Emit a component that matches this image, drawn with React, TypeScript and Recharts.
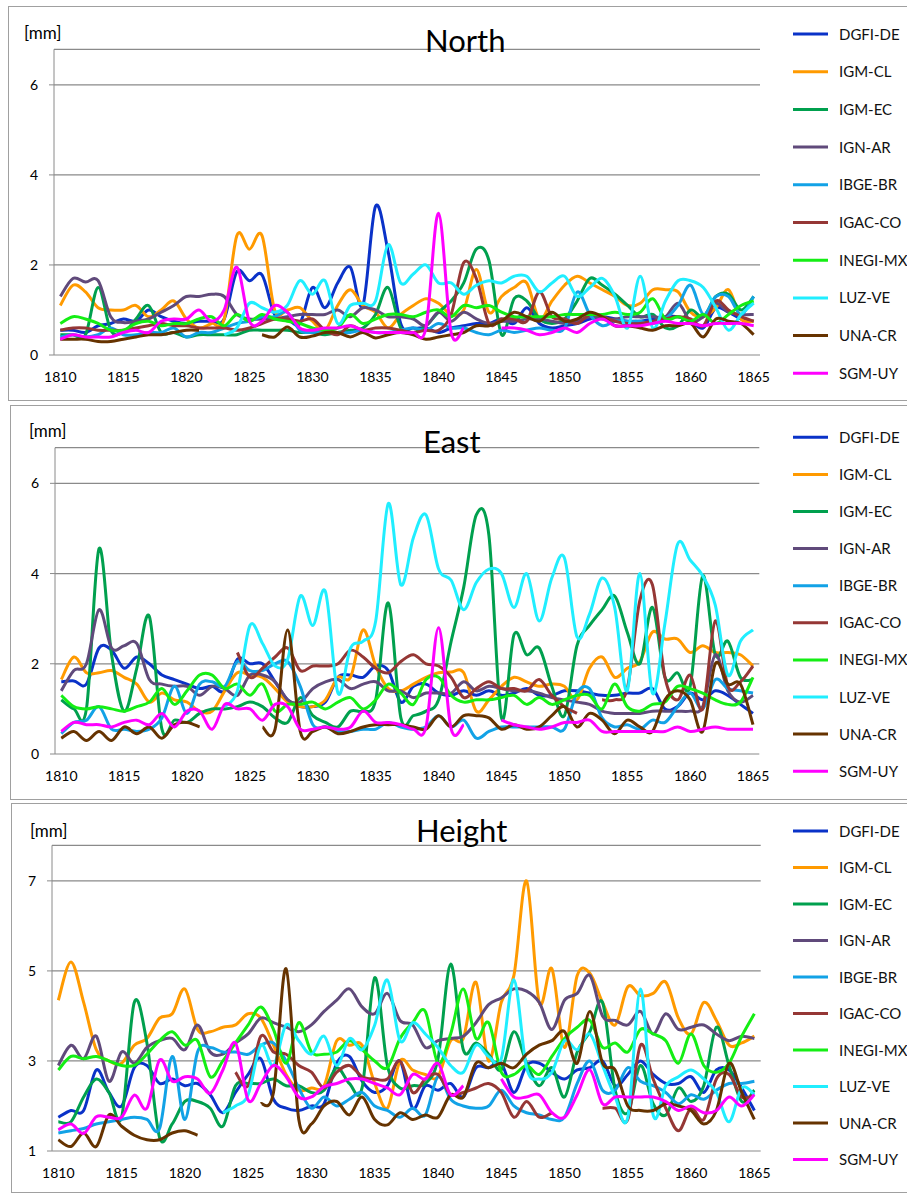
import React from 'react';
import { LineChart, Line, XAxis, YAxis, CartesianGrid } from 'recharts';

const years = [
  1810, 1811, 1812, 1813, 1814, 1815, 1816, 1817, 1818, 1819,
  1820, 1821, 1822, 1823, 1824, 1825, 1826, 1827, 1828, 1829,
  1830, 1831, 1832, 1833, 1834, 1835, 1836, 1837, 1838, 1839,
  1840, 1841, 1842, 1843, 1844, 1845, 1846, 1847, 1848, 1849,
  1850, 1851, 1852, 1853, 1854, 1855, 1856, 1857, 1858, 1859,
  1860, 1861, 1862, 1863, 1864, 1865,
];
const labelYears = [1810, 1815, 1820, 1825, 1830, 1835, 1840, 1845, 1850, 1855, 1860, 1865];

const seriesNames = ['DGFI-DE', 'IGM-CL', 'IGM-EC', 'IGN-AR', 'IBGE-BR', 'IGAC-CO', 'INEGI-MX', 'LUZ-VE', 'UNA-CR', 'SGM-UY'];
const seriesColors = ['#0A32C8', '#FF9A00', '#00A04E', '#604A7B', '#12A2E6', '#953735', '#14EE14', '#20EEFF', '#663300', '#FF00FF'];

const _ = null;

// North [mm]
const northDGFI = [0.55, 0.55, 0.5, 0.65, 0.7, 0.8, 0.75, 1.0, 0.85, 0.75, 0.7, 0.75, 0.75, 0.8, 1.85, 1.65, 1.78, 0.9, 0.8, 0.7, 1.5, 1.05, 1.6, 1.95, 1.1, 3.3, 2.3, 0.7, 0.6, 0.6, 0.5, 0.6, 0.65, 0.7, 0.7, 0.8, 0.7, 1.05, 0.7, 0.6, 0.65, 0.7, 0.8, 0.85, 0.8, 0.75, 0.75, 0.8, 0.85, 0.85, 0.75, 0.6, 1.05, 0.95, 0.8, 0.75];
const northCL = [1.1, 1.55, 1.4, 1.05, 1.0, 1.0, 1.1, 0.85, 1.0, 1.2, 0.8, 0.6, 0.7, 0.8, 2.65, 2.35, 2.65, 1.0, 1.0, 1.05, 0.75, 0.55, 1.1, 1.45, 1.1, 0.95, 0.6, 0.9, 1.1, 1.25, 1.15, 0.9, 1.0, 1.9, 0.95, 1.3, 1.5, 1.6, 0.8, 1.2, 1.55, 1.75, 1.6, 1.45, 1.3, 1.1, 1.15, 1.45, 1.45, 1.4, 0.95, 0.85, 1.05, 1.45, 0.8, 0.75];
const northEC = [0.45, 0.45, 0.45, 1.5, 0.55, 0.5, 0.8, 1.1, 0.5, 0.5, 0.4, 0.45, 0.45, 0.45, 0.45, 0.55, 0.55, 0.55, 0.55, 0.5, 0.5, 0.45, 0.5, 0.55, 0.6, 0.9, 1.5, 0.6, 0.5, 0.65, 0.95, 1.2, 1.6, 2.35, 2.1, 0.45, 1.25, 1.2, 0.8, 0.7, 0.8, 1.2, 1.7, 1.55, 1.35, 1.1, 0.85, 0.9, 0.6, 0.65, 1.0, 0.85, 1.3, 1.35, 1.0, 1.3];
const northAR = [1.3, 1.7, 1.62, 1.65, 0.85, 0.72, 0.75, 0.8, 0.95, 1.1, 1.3, 1.3, 1.35, 1.3, 0.9, 0.8, 0.8, 0.8, 0.85, 0.9, 0.9, 0.9, 1.0, 0.85, 1.05, 1.0, 0.85, 0.85, 0.8, 0.65, 0.95, 0.75, 0.95, 0.8, 0.7, 0.75, 0.75, 0.8, 0.8, 0.75, 0.7, 0.75, 0.85, 0.8, 0.8, 0.85, 0.85, 0.85, 0.85, 1.15, 0.75, 0.85, 1.15, 0.95, 0.9, 0.9];
const northBR = [0.4, 0.45, 0.4, 0.45, 0.6, 0.45, 0.45, 0.5, 0.5, 0.6, 0.4, 0.5, 0.5, 0.6, 0.7, 0.75, 0.85, 0.85, 0.95, 0.55, 0.5, 0.55, 0.5, 0.5, 0.55, 0.5, 0.5, 0.55, 0.6, 0.55, 0.7, 0.6, 0.6, 0.5, 0.45, 0.55, 0.5, 0.55, 0.6, 0.55, 0.6, 1.4, 0.9, 0.65, 0.75, 0.75, 0.75, 0.7, 0.8, 1.1, 1.55, 0.9, 1.3, 1.3, 0.9, 1.3];
const northCO = [0.55, 0.6, 0.6, 0.55, 0.55, 0.55, 0.6, 0.65, 0.7, 0.65, 0.65, 0.6, 0.6, 0.6, 0.55, 0.6, 0.7, 0.8, 0.8, 0.75, 0.8, 0.55, 0.45, 0.65, 0.55, 0.6, 0.6, 0.55, 0.5, 0.55, 0.55, 0.9, 2.05, 1.7, 0.7, 0.8, 0.8, 0.75, 1.4, 0.85, 0.8, 0.7, 0.9, 0.85, 0.75, 0.7, 0.7, 0.75, 0.8, 0.85, 0.8, 0.65, 1.2, 1.0, 0.85, 0.75];
const northMX = [0.7, 0.85, 0.8, 0.7, 0.55, 0.55, 0.7, 0.75, 0.65, 0.7, 0.7, 0.8, 0.85, 0.65, 0.9, 0.75, 0.9, 0.8, 0.75, 0.7, 0.6, 0.55, 0.6, 0.9, 0.7, 0.8, 0.9, 0.9, 0.85, 0.95, 1.0, 0.85, 1.1, 1.05, 1.1, 0.95, 0.85, 0.85, 0.85, 0.85, 0.9, 0.9, 0.9, 0.9, 0.95, 0.9, 0.95, 1.25, 0.8, 0.85, 0.75, 0.9, 0.7, 0.9, 1.1, 1.2];
const northVE = [_, _, _, _, _, _, _, _, _, _, _, _, _, 0.45, 0.6, 1.15, 1.05, 0.95, 1.1, 1.65, 1.35, 1.65, 0.7, 1.1, 1.15, 1.2, 2.45, 1.6, 1.8, 2.0, 1.6, 1.6, 1.35, 1.55, 1.65, 1.6, 1.75, 1.75, 1.4, 1.6, 1.75, 1.3, 1.5, 1.7, 1.3, 0.6, 1.75, 0.6, 1.2, 1.65, 1.65, 1.5, 1.05, 0.55, 0.9, 1.15];
const northCR = [0.35, 0.35, 0.35, 0.3, 0.3, 0.35, 0.4, 0.45, 0.45, 0.5, 0.55, 0.55, _, _, _, _, 0.45, 0.4, 0.62, 0.4, 0.42, 0.5, 0.5, 0.4, 0.5, 0.38, 0.45, 0.5, 0.45, 0.35, 0.4, 0.45, 0.5, 0.65, 0.65, 0.75, 0.95, 0.85, 0.75, 0.95, 0.75, 0.8, 0.95, 0.85, 0.65, 0.65, 0.6, 0.55, 0.65, 0.65, 0.7, 0.4, 0.8, 0.75, 0.7, 0.45];
const northUY = [0.35, 0.45, 0.4, 0.4, 0.4, 0.5, 0.55, 0.5, 0.75, 0.8, 0.8, 1.0, 0.75, 1.0, 1.95, 0.75, 0.75, 1.1, 0.95, 0.6, 0.55, 0.6, 0.6, 0.65, 0.55, 0.5, 0.5, 0.5, 0.5, 0.6, 3.15, 0.5, 0.6, _, _, 0.6, 0.6, 0.55, 0.45, 0.5, 0.6, 0.5, 0.7, 0.8, 0.65, 0.65, 0.65, 0.7, 0.75, 0.7, 0.7, 0.65, 0.7, 0.7, 0.7, 0.65];

// East [mm]
const eastDGFI = [1.6, 1.62, 1.55, 2.35, 2.3, 1.9, 2.15, 2.0, 1.75, 1.65, 1.55, 1.45, 1.5, 1.4, 2.1, 2.0, 2.0, 1.6, 1.2, 1.05, 1.05, 1.15, 1.7, 1.75, 1.7, 1.95, 1.85, 1.15, 1.5, 1.55, 1.35, 1.3, 1.4, 1.3, 1.4, 1.3, 1.35, 1.45, 1.3, 1.3, 1.4, 1.4, 1.35, 1.3, 1.3, 1.35, 1.35, 1.45, 1.0, 1.05, 1.35, 1.2, 1.4, 1.3, 1.1, 0.9];
const eastCL = [1.65, 2.15, 1.8, 1.8, 1.85, 1.7, 1.55, 1.15, 1.35, 1.2, 1.15, 0.95, 0.95, 1.4, 1.8, 1.75, 1.7, 1.45, 1.15, 1.05, 1.05, 1.2, 1.7, 1.7, 2.75, 1.95, 1.45, 1.4, 1.55, 1.7, 1.8, 1.82, 1.8, 0.95, 1.2, 1.5, 1.7, 1.6, 1.5, 1.55, 1.5, 1.2, 1.9, 2.15, 1.7, 1.9, 2.05, 2.7, 2.55, 2.55, 2.25, 2.4, 2.25, 2.25, 2.2, 1.95];
const eastEC = [1.2, 1.0, 1.0, 4.55, 2.2, 0.95, 1.9, 3.05, 0.55, 0.75, 0.7, 0.9, 1.0, 1.0, 1.05, 1.15, 1.05, 0.8, 0.7, 1.25, 0.85, 0.7, 0.6, 0.95, 0.95, 1.2, 3.35, 0.8, 0.85, 0.95, 1.2, 2.5, 3.7, 5.3, 4.85, 0.8, 2.65, 2.2, 2.35, 1.5, 0.85, 2.4, 2.85, 3.2, 3.5, 2.7, 2.0, 3.25, 1.7, 1.8, 1.5, 3.95, 2.2, 2.5, 1.7, 1.65];
const eastAR = [1.4, 1.85, 2.0, 3.2, 2.35, 2.4, 2.45, 1.65, 1.55, 1.5, 1.5, 1.3, 1.5, 1.45, 1.3, 1.75, 1.75, 1.6, 1.2, 1.15, 1.45, 1.6, 1.65, 1.45, 1.55, 1.6, 1.4, 1.4, 1.25, 1.35, 1.35, 1.35, 1.6, 1.4, 1.5, 1.45, 1.4, 1.4, 1.35, 1.25, 1.2, 1.15, 1.1, 0.95, 0.9, 0.9, 0.9, 0.95, 0.95, 0.95, 0.95, 1.05, 2.2, 1.4, 1.15, 1.3];
const eastBR = [0.45, 0.7, 0.75, 1.05, 0.55, 0.55, 0.5, 0.55, 0.8, 1.5, 0.9, 1.55, 1.6, 1.5, 2.05, 1.85, 1.85, 2.0, 2.05, 1.5, 0.65, 0.6, 0.5, 0.5, 0.55, 0.55, 0.7, 0.6, 0.55, 0.6, 0.85, 0.6, 0.75, 0.35, 0.5, 0.6, 0.6, 0.6, 0.6, 0.6, 0.55, 1.35, 1.45, 0.8, 0.6, 0.65, 0.55, 0.75, 0.7, 1.05, 1.35, 1.0, 1.65, 1.45, 1.4, 1.35];
const eastCO = [_, _, _, _, _, _, _, _, _, _, _, _, _, _, 2.25, 1.7, 1.9, 2.15, 2.35, 1.85, 1.95, 1.95, 2.0, 2.3, 2.15, 1.9, 1.8, 2.05, 2.2, 2.0, 1.95, 1.7, 1.25, 1.45, 1.6, 1.45, 1.45, 1.4, 1.65, 1.3, 1.05, 0.9, _, 1.2, 1.2, 1.45, 3.4, 3.75, 1.7, 1.2, 1.75, 1.0, 2.95, 1.5, 1.6, 1.95];
const eastMX = [1.3, 1.05, 1.0, 1.05, 1.0, 0.95, 1.05, 1.15, 1.45, 1.1, 1.4, 1.75, 1.75, 1.45, 1.55, 1.3, 1.55, 0.95, 1.1, 1.1, 1.15, 1.0, 1.15, 1.25, 1.0, 1.2, 1.55, 1.35, 1.1, 1.65, 1.7, 1.3, 1.15, 1.2, 1.2, 1.25, 1.3, 1.1, 1.25, 1.1, 1.2, 1.3, 1.3, 1.0, 1.55, 1.05, 0.95, 1.1, 1.15, 1.5, 1.45, 1.35, 1.2, 1.1, 1.15, 1.7];
const eastVE = [_, _, _, _, _, _, _, _, _, _, _, _, _, 1.05, 1.4, 2.85, 2.45, 1.95, 2.1, 3.5, 2.85, 3.6, 1.35, 2.35, 2.5, 2.95, 5.55, 3.75, 4.8, 5.3, 4.1, 3.85, 3.2, 3.8, 4.1, 4.0, 3.25, 4.0, 2.95, 3.9, 4.35, 2.6, 3.1, 3.9, 3.25, 1.4, 4.0, 1.35, 2.9, 4.65, 4.3, 3.95, 3.3, 1.75, 2.5, 2.75];
const eastCR = [0.35, 0.5, 0.3, 0.5, 0.3, 0.6, 0.45, 0.6, 0.35, 0.65, 0.7, 0.6, _, _, _, _, 0.6, 0.55, 2.75, 0.5, 0.5, 0.6, 0.45, 0.5, 0.6, 0.65, 0.65, 0.65, 0.6, 0.55, 0.85, 0.6, 0.85, 0.85, 0.8, 0.55, 0.65, 0.55, 0.6, 0.85, 1.05, 0.6, 0.9, 0.75, 0.45, 0.75, 0.6, 0.5, 1.2, 1.4, 1.2, 0.5, 2.0, 1.55, 1.55, 0.65];
const eastUY = [0.5, 0.7, 0.65, 0.65, 0.6, 0.7, 0.75, 0.65, 0.9, 0.6, 0.95, 0.95, 0.55, 1.1, 1.0, 1.0, 0.75, 1.1, 1.05, 0.55, 0.55, 0.6, 0.55, 0.6, 0.95, 0.7, 0.7, 0.65, 0.55, 0.6, 2.8, 0.55, 0.65, _, _, 0.75, 0.65, 0.6, 0.55, 0.6, 0.7, 0.7, 0.75, 0.5, 0.5, 0.5, 0.5, 0.5, 0.5, 0.6, 0.5, 0.55, 0.6, 0.55, 0.55, 0.55];

// Height [mm]
const heightDGFI = [1.75, 1.9, 1.9, 2.8, 2.3, 2.0, 2.85, 2.9, 2.5, 2.6, 2.45, 2.5, 2.25, 1.85, 2.3, 2.7, 3.05, 2.15, 1.95, 1.9, 2.0, 2.05, 2.95, 3.1, 2.55, 2.3, 2.45, 3.0, 1.95, 2.45, 2.35, 2.5, 2.2, 2.85, 2.85, 2.95, 2.3, 2.9, 2.95, 2.75, 2.6, 2.8, 2.85, 3.0, 2.45, 2.7, 3.0, 2.7, 2.5, 2.5, 2.65, 2.3, 2.8, 2.8, 2.4, 1.9];
const heightCL = [4.35, 5.2, 4.3, 3.25, 3.0, 2.95, 3.35, 3.5, 3.95, 4.05, 4.6, 3.7, 3.65, 3.75, 3.8, 4.05, 3.95, 3.35, 2.7, 2.35, 2.4, 2.45, 3.45, 3.35, 3.35, 2.5, 1.95, 3.0, 2.8, 2.7, 2.65, 3.45, 3.5, 4.75, 3.0, 4.3, 4.9, 7.0, 4.3, 5.05, 3.3, 4.9, 4.95, 4.3, 3.8, 4.65, 4.45, 4.5, 4.75, 3.95, 3.6, 4.3, 3.9, 3.35, 3.4, 3.55];
const heightEC = [1.65, 1.65, 2.2, 2.6, 2.3, 1.75, 4.3, 3.4, 1.3, 1.6, 2.1, 2.1, 1.95, 1.55, 2.45, 2.5, 2.5, 2.6, 2.45, 2.45, 2.3, 2.35, 2.85, 2.5, 2.4, 4.85, 2.9, 2.4, 2.45, 2.5, 3.05, 5.15, 3.25, 3.4, 3.15, 2.8, 3.65, 2.95, 2.45, 2.85, 2.2, 3.2, 3.65, 4.3, 2.35, 1.85, 2.9, 2.05, 1.8, 2.4, 2.1, 2.45, 3.75, 2.9, 2.1, 2.35];
const heightAR = [2.9, 3.35, 3.05, 3.55, 2.55, 3.2, 2.95, 3.3, 3.45, 3.5, 3.25, 3.8, 3.2, 3.15, 3.4, 3.6, 3.95, 3.85, 3.75, 3.65, 3.8, 4.1, 4.35, 4.6, 4.2, 4.05, 4.5, 3.9, 3.8, 3.3, 3.45, 3.5, 3.55, 3.85, 4.25, 4.4, 4.6, 4.55, 4.3, 3.7, 4.35, 4.5, 4.9, 4.0, 3.9, 3.8, 4.1, 3.6, 4.05, 3.7, 3.75, 3.8, 3.6, 3.45, 3.55, 3.5];
const heightBR = [1.4, 1.45, 1.5, 1.6, 1.65, 1.7, 1.75, 1.7, 1.5, 3.1, 1.7, 3.2, 3.3, 3.2, 3.2, 3.15, 3.35, 3.4, 3.0, 2.4, 1.95, 2.2, 2.0, 2.15, 2.3, 2.0, 1.9, 1.75, 1.95, 1.8, 2.65, 2.15, 2.0, 1.95, 2.0, 2.35, 2.0, 1.85, 1.8, 1.7, 1.75, 2.5, 3.0, 2.35, 2.35, 2.85, 2.55, 2.45, 2.3, 2.05, 2.25, 2.15, 2.35, 2.5, 2.5, 2.55];
const heightCO = [_, _, _, _, _, _, _, _, _, _, _, _, _, _, 2.75, 2.45, 3.55, 3.2, 3.15, 2.9, 2.75, 2.4, 2.75, 2.9, 2.65, 2.6, 2.6, 3.0, 2.3, 2.6, 2.7, 2.25, 2.3, 2.4, 2.5, 2.3, 1.75, 2.1, 1.75, 1.85, _, _, _, 1.95, 1.95, 1.7, 3.35, 2.6, 1.95, 1.45, 1.95, 1.7, 2.6, 2.7, 2.2, 2.25];
const heightMX = [2.8, 3.1, 3.05, 3.1, 3.0, 2.9, 2.9, 3.15, 3.45, 3.65, 3.35, 3.45, 2.65, 3.0, 3.4, 3.8, 4.2, 3.7, 2.95, 3.85, 3.2, 3.15, 3.2, 3.45, 3.25, 3.0, 2.85, 3.5, 3.85, 4.1, 2.95, 3.6, 4.6, 3.5, 3.85, 2.75, 2.7, 2.9, 2.7, 3.1, 3.5, 3.75, 3.9, 3.3, 3.4, 3.2, 3.7, 3.6, 3.45, 2.95, 3.6, 2.9, 2.75, 2.95, 3.55, 4.05];
const heightVE = [_, _, _, _, _, _, _, _, _, _, _, _, _, 1.85, 2.0, 2.25, 3.35, 2.9, 3.8, 3.45, 3.15, 3.55, 2.9, 3.5, 3.25, 3.8, 4.8, 3.45, 3.85, 3.6, 3.3, 2.9, 2.75, 3.35, 3.1, 3.05, 4.8, 2.85, 2.6, 2.75, 3.45, 3.25, 3.6, 2.9, 2.2, 1.75, 4.6, 1.8, 2.45, 2.65, 2.8, 2.6, 2.3, 1.65, 2.4, 2.25];
const heightCR = [1.25, 1.1, 1.4, 1.1, 1.8, 1.55, 1.35, 1.25, 1.25, 1.4, 1.45, 1.35, _, _, _, _, 2.05, 2.3, 5.05, 1.7, 1.6, 2.0, 2.1, 1.8, 2.2, 1.7, 1.58, 1.85, 1.7, 1.8, 1.75, 2.25, 2.2, 2.95, 2.85, 2.95, 2.85, 3.15, 3.35, 3.45, 3.65, 2.95, 4.1, 2.95, 2.8, 2.0, 1.9, 1.9, 2.05, 2.0, 1.9, 1.6, 1.9, 2.95, 2.3, 1.7];
const heightUY = [1.47, 1.6, 1.39, 1.76, 1.75, 1.75, 2.24, 1.95, 3.02, 2.55, 2.65, 2.6, 2.28, 2.8, 3.4, 2.13, 2.5, 2.9, 2.65, 2.2, 2.2, 2.43, 2.5, 2.6, 2.6, 2.5, 2.4, 2.25, 2.7, 2.6, 2.95, 2.25, 2.45, _, _, 2.6, 2.2, 2.2, 2.25, 1.85, 1.75, 2.25, 2.8, 2.05, 2.2, 2.2, 2.2, 2.2, 2.1, 1.9, 2.0, 1.85, 1.9, 2.2, 2.0, 2.25];

const northSeries = [northDGFI, northCL, northEC, northAR, northBR, northCO, northMX, northVE, northCR, northUY];
const eastSeries = [eastDGFI, eastCL, eastEC, eastAR, eastBR, eastCO, eastMX, eastVE, eastCR, eastUY];
const heightSeries = [heightDGFI, heightCL, heightEC, heightAR, heightBR, heightCO, heightMX, heightVE, heightCR, heightUY];

const minorTicks = [...years.map((y) => y - 0.5), years[years.length - 1] + 0.5];
const FONT = 'Lato, "Open Sans", sans-serif';
const GRID = '#8a8a8a';

// smoothed line like the spreadsheet one (catmull-rom through the points)
const smoothCurve = (ctx: any) => {
  let pts: number[][] = [];
  return {
    areaStart() {},
    areaEnd() {},
    lineStart() { pts = []; },
    point(x: number, y: number) { pts.push([+x, +y]); },
    lineEnd() {
      if (!pts.length) return;
      ctx.moveTo(pts[0][0], pts[0][1]);
      for (let i = 0; i < pts.length - 1; i++) {
        const p0 = pts[Math.max(i - 1, 0)];
        const p1 = pts[i];
        const p2 = pts[i + 1];
        const p3 = pts[Math.min(i + 2, pts.length - 1)];
        ctx.bezierCurveTo(
          p1[0] + (p2[0] - p0[0]) / 6, p1[1] + (p2[1] - p0[1]) / 6,
          p2[0] - (p3[0] - p1[0]) / 6, p2[1] - (p3[1] - p1[1]) / 6,
          p2[0], p2[1],
        );
      }
    },
  };
};

type PanelProps = {
  title: string;
  series: (number | null)[][];
  box: { x: number; y: number; h: number };
  chartTop: number;
  chartH: number;
  plot: { left: number; right: number; top: number; bottom: number };
  yDomain: [number, number];
  yTicks: number[];
  titlePos: { x: number; y: number };
  unitPos: { x: number; y: number };
  legend: { y0: number; step: number };
};

function Panel(p: PanelProps) {
  const rows = years.map((year, i) => {
    const row: Record<string, number | null> = { year };
    seriesNames.forEach((n, k) => { row[n] = p.series[k][i]; });
    return row;
  });
  const labH = p.chartTop + p.chartH - p.plot.bottom;
  const tickStyle = { fontFamily: FONT, fontSize: 14, fill: '#000' };

  return (
    <>
      <div style={{ position: 'absolute', left: 0, top: p.chartTop }}>
        <LineChart
          width={907}
          height={p.chartH}
          data={rows}
          margin={{ top: p.plot.top - p.chartTop, right: 907 - p.plot.right, left: 0, bottom: 0 }}
        >
          <XAxis
            xAxisId="minor" type="number" dataKey="year" domain={[1809.5, 1865.5]}
            ticks={minorTicks} interval={0} height={0} tickSize={5} allowDataOverflow
            tickFormatter={() => ''} axisLine={{ stroke: GRID }} tickLine={{ stroke: GRID }}
          />
          <XAxis
            xAxisId="lab" type="number" dataKey="year" domain={[1809.5, 1865.5]}
            ticks={labelYears} interval={0} height={labH} tickLine={false} axisLine={false}
            tickSize={6} tickMargin={11} tick={tickStyle} allowDataOverflow
          />
          <YAxis
            type="number" domain={p.yDomain} ticks={p.yTicks} interval={0} width={p.plot.left}
            tickSize={5} tickMargin={11} tick={tickStyle} allowDataOverflow
            axisLine={{ stroke: GRID }} tickLine={{ stroke: GRID }}
          />
          <CartesianGrid xAxisId="lab" vertical={false} stroke={GRID} strokeWidth={1.2} />
          {seriesNames.map((n, k) => (
            <Line
              key={n} xAxisId="lab" dataKey={n} type={smoothCurve as any}
              stroke={seriesColors[k]} strokeWidth={3} dot={false} activeDot={false}
              isAnimationActive={false}
            />
          ))}
        </LineChart>
      </div>
      <svg
        width={907} height={1194}
        style={{ position: 'absolute', left: 0, top: 0, pointerEvents: 'none', overflow: 'visible' }}
      >
        <rect x={p.box.x + 0.5} y={p.box.y + 0.5} width={910} height={p.box.h} fill="none" stroke="#a0a0a0" />
        <text x={p.titlePos.x} y={p.titlePos.y} fontFamily={FONT} fontSize={31} fill="#000">{p.title}</text>
        <text x={p.unitPos.x} y={p.unitPos.y} fontFamily={FONT} fontSize={17} fill="#000">[mm]</text>
        {seriesNames.map((n, k) => {
          const y = p.legend.y0 + k * p.legend.step;
          return (
            <g key={n}>
              <line x1={793} x2={828} y1={y} y2={y} stroke={seriesColors[k]} strokeWidth={3} />
              <text x={839} y={y + 5.5} fontFamily={FONT} fontSize={15} fill="#111">{n}</text>
            </g>
          );
        })}
      </svg>
    </>
  );
}

export default function App() {
  return (
    <div style={{ position: 'absolute', left: 0, top: 0, width: 907, height: 1194, background: '#fff', overflow: 'hidden' }}>
      <Panel
        title="North" series={northSeries}
        box={{ x: 8, y: 6, h: 394 }} chartTop={0} chartH={400}
        plot={{ left: 54, right: 760, top: 49.3, bottom: 355 }}
        yDomain={[0, 6.79]} yTicks={[0, 2, 4, 6]}
        titlePos={{ x: 425, y: 51.7 }} unitPos={{ x: 24, y: 39 }}
        legend={{ y0: 34, step: 37.7 }}
      />
      <Panel
        title="East" series={eastSeries}
        box={{ x: 10, y: 405, h: 394 }} chartTop={400} chartH={400}
        plot={{ left: 55, right: 759.3, top: 447.7, bottom: 754 }}
        yDomain={[0, 6.79]} yTicks={[0, 2, 4, 6]}
        titlePos={{ x: 423, y: 452.7 }} unitPos={{ x: 29, y: 437 }}
        legend={{ y0: 437.3, step: 37.1 }}
      />
      <Panel
        title="Height" series={heightSeries}
        box={{ x: 11, y: 803, h: 389 }} chartTop={800} chartH={394}
        plot={{ left: 52, right: 760.7, top: 845.3, bottom: 1151 }}
        yDomain={[1, 7.79]} yTicks={[1, 3, 5, 7]}
        titlePos={{ x: 416, y: 841.7 }} unitPos={{ x: 30, y: 836.5 }}
        legend={{ y0: 831, step: 36.5 }}
      />
    </div>
  );
}
